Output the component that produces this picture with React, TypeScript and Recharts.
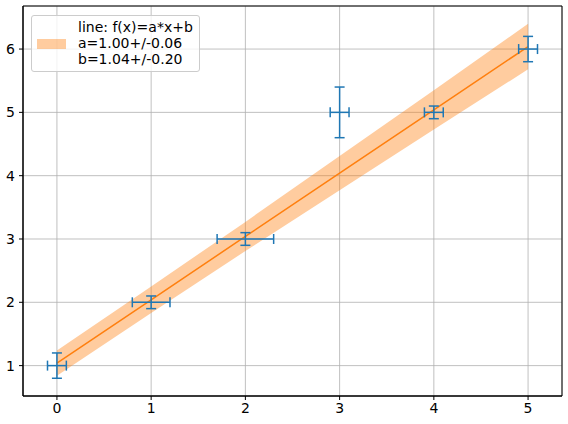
import React from 'react';
import {
    ComposedChart, Area, Line, Scatter, ErrorBar, XAxis, YAxis, CartesianGrid, ReferenceArea,
} from 'recharts';

// measured points with their errors
const xs = [0, 1, 2, 3, 4, 5];
const ys = [1, 2, 3, 5, 5, 6];
const xErrs = [0.1, 0.2, 0.3, 0.1, 0.1, 0.1];
const yErrs = [0.2, 0.1, 0.1, 0.4, 0.1, 0.2];

// fitted line and its confidence band
const fitValues = [1.04, 2.04, 3.04, 4.04, 5.04, 6.04];
const bandLow = [0.84, 1.83, 2.81, 3.77, 4.73, 5.68];
const bandHigh = [1.24, 2.25, 3.27, 4.31, 5.35, 6.40];

const xTicks = [0, 1, 2, 3, 4, 5];
const yTicks = [1, 2, 3, 4, 5, 6];
const legendLines = ['line: f(x)=a*x+b', 'a=1.00+/-0.06', 'b=1.04+/-0.20'];

const X_DOMAIN: [number, number] = [-0.36, 5.36];
const Y_DOMAIN: [number, number] = [0.52, 6.68];
const FONT = '"DejaVu Sans", sans-serif';

const fitData = xs.map((x, i) => ({ x, fit: fitValues[i], band: [bandLow[i], bandHigh[i]] }));
const pointData = xs.map((x, i) => ({ x, y: ys[i], xErr: xErrs[i], yErr: yErrs[i] }));

// drawn over the chart, like matplotlib's legend inside the axes
const LegendBox = () => (
    <div style={{
        position: 'absolute', left: 31, top: 15, width: 169, height: 57, boxSizing: 'border-box',
        border: '1px solid #cccccc', borderRadius: 3, background: 'rgba(255,255,255,0.8)',
        fontFamily: FONT, fontSize: 14, color: '#000',
    }}>
        <div style={{ position: 'absolute', left: 5, top: 23, width: 29, height: 10, background: '#ff7f0e', opacity: 0.4 }} />
        <div style={{ position: 'absolute', left: 46, top: 3, lineHeight: '16px', whiteSpace: 'nowrap' }}>
            {legendLines.map(t => <div key={t}>{t}</div>)}
        </div>
    </div>
);

const App: React.FC = () => {
    const tick = { fill: '#000', fontSize: 14, fontFamily: FONT };
    return (
        <div style={{ position: 'absolute', left: 0, top: 0, width: 568, height: 424, background: '#fff' }}>
            <ComposedChart width={568} height={424} data={fitData} margin={{ top: 6, right: 6, left: 0, bottom: 0 }}>
                <CartesianGrid stroke="#b0b0b0" strokeWidth={0.8} />
                <XAxis type="number" dataKey="x" domain={X_DOMAIN} ticks={xTicks} allowDataOverflow
                    height={28} tick={tick} tickSize={4} tickMargin={3} stroke="#000" />
                <YAxis type="number" domain={Y_DOMAIN} ticks={yTicks} allowDataOverflow
                    width={23} tick={tick} tickSize={4} tickMargin={4} stroke="#000" />
                <Area type="linear" dataKey="band" fill="#ff7f0e" fillOpacity={0.4} stroke="none" isAnimationActive={false} />
                <Line type="linear" dataKey="fit" stroke="#ff7f0e" strokeWidth={1.5} dot={false} isAnimationActive={false} />
                <Scatter data={pointData} dataKey="y" shape={() => <g />} isAnimationActive={false}>
                    <ErrorBar dataKey="xErr" direction="x" stroke="#1f77b4" strokeWidth={1.5} width={5} isAnimationActive={false} />
                    <ErrorBar dataKey="yErr" direction="y" stroke="#1f77b4" strokeWidth={1.5} width={5} isAnimationActive={false} />
                </Scatter>
                <ReferenceArea x1={X_DOMAIN[0]} x2={X_DOMAIN[1]} y1={Y_DOMAIN[0]} y2={Y_DOMAIN[1]}
                    fill="none" stroke="#000" strokeWidth={1} />
            </ComposedChart>
            <LegendBox />
        </div>
    );
};

export default App;
